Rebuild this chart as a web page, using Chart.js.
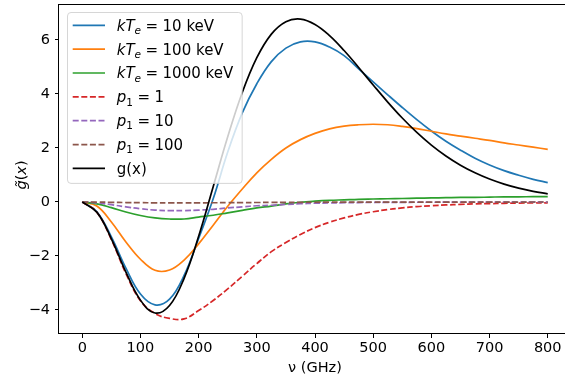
<!DOCTYPE html>
<html>
<head>
<meta charset="utf-8">
<title>g(x)</title>
<script src="https://cdn.jsdelivr.net/npm/chart.js@4.4.1/dist/chart.umd.min.js"></script>
<style>
  html, body { margin: 0; padding: 0; overflow: hidden; background: #fff; }
  canvas { display: block; }
</style>
</head>
<body>
<canvas id="sz" width="580" height="380"></canvas>
<script>
// frequency grid, GHz
const nu = [0, 25, 50, 75, 100, 125, 150, 175, 200, 225, 250, 275, 300, 325, 350, 375, 400,
            425, 450, 475, 500, 525, 550, 575, 600, 625, 650, 675, 700, 725, 750, 775, 800];

// relativistic thermal curves
const kT10 = [0, -0.36, -1.29, -2.45, -3.41, -3.81, -3.60, -2.72, -1.35, 0.12, 1.85, 3.30, 4.38,
              5.20, 5.70, 5.93, 5.93, 5.74, 5.42, 4.93, 4.45, 3.97, 3.50, 3.05, 2.63, 2.25, 1.92,
              1.62, 1.37, 1.16, 0.99, 0.84, 0.72];
const kT100 = [0, -0.15, -0.74, -1.48, -2.12, -2.53, -2.52, -2.15, -1.55, -0.86, -0.16, 0.48, 1.08,
               1.58, 2.00, 2.31, 2.54, 2.71, 2.81, 2.86, 2.88, 2.86, 2.80, 2.72, 2.62, 2.52, 2.44,
               2.36, 2.28, 2.19, 2.11, 2.03, 1.95];
const kT1000 = [0, -0.07, -0.21, -0.37, -0.50, -0.59, -0.63, -0.63, -0.56, -0.49, -0.40, -0.31, -0.22,
                -0.15, -0.07, -0.01, 0.03, 0.06, 0.08, 0.10, 0.11, 0.12, 0.13, 0.14, 0.15, 0.16, 0.17,
                0.17, 0.18, 0.19, 0.19, 0.20, 0.20];

// power-law electrons
const p1_1 = [0, -0.38, -1.39, -2.65, -3.66, -4.13, -4.31, -4.33, -4.02, -3.65, -3.22, -2.75, -2.28,
              -1.84, -1.50, -1.20, -0.95, -0.75, -0.59, -0.46, -0.36, -0.28, -0.22, -0.17, -0.14,
              -0.11, -0.09, -0.07, -0.06, -0.05, -0.04, -0.035, -0.03];
const p1_10 = [0, -0.03, -0.10, -0.18, -0.25, -0.30, -0.32, -0.32, -0.30, -0.27, -0.22, -0.18, -0.14,
               -0.12, -0.09, -0.065, -0.045, -0.035, -0.027, -0.021, -0.017, -0.014, -0.012, -0.010,
               -0.009, -0.008, -0.007, -0.006, -0.005, -0.005, -0.004, -0.004, -0.003];
const p1_100 = [0, -0.004, -0.012, -0.02, -0.026, -0.03, -0.032, -0.032, -0.03, -0.028, -0.025, -0.022,
                -0.019, -0.016, -0.013, -0.011, -0.009, -0.008, -0.007, -0.006, -0.005, -0.004, -0.004,
                -0.003, -0.003, -0.003, -0.002, -0.002, -0.002, -0.002, -0.002, -0.001, -0.001];

// non-relativistic g(x)
const gx = [0, -0.375, -1.362, -2.596, -3.635, -4.110, -3.833, -2.826, -1.271, 0.567, 2.415, 4.054,
            5.343, 6.218, 6.679, 6.775, 6.577, 6.163, 5.610, 4.983, 4.334, 3.701, 3.110, 2.577, 2.108,
            1.705, 1.365, 1.083, 0.851, 0.664, 0.514, 0.396, 0.302];

const labels = ['$kT_e = 10$ keV', '$kT_e = 100$ keV', '$kT_e = 1000$ keV',
                '$p_1 = 1$', '$p_1 = 10$', '$p_1 = 100$', 'g(x)'];
const values = [kT10, kT100, kT1000, p1_1, p1_10, p1_100, gx];
const colors = ['#1f77b4', '#ff7f0e', '#2ca02c', '#d62728', '#9467bd', '#8c564b', '#000000'];
const dashed = [false, false, false, true, true, true, false];

const xTicks = [0, 100, 200, 300, 400, 500, 600, 700, 800];
const yTicks = [-4, -2, 0, 2, 4, 6];

const FONT = '"DejaVu Sans"';
const FS = 14.5;      // ticks and axis titles
const LEG_FS = 15;    // legend entries
const LW = 1.7;
const DASH = [6, 2.6];

// draws a label with $...$ parts set like mathtext: letters italic, _x subscripts
function drawMath(ctx, text, x, y, size) {
  const base = y + size * 0.36;
  let cx = x;
  text.split('$').forEach((part, i) => {
    if (i % 2 === 0) {
      ctx.font = size + 'px ' + FONT;
      ctx.fillText(part, cx, base);
      cx += ctx.measureText(part).width;
      return;
    }
    for (let k = 0; k < part.length; k++) {
      let ch = part[k];
      if (ch === ' ') continue;
      let sub = false;
      if (ch === '_') { sub = true; ch = part[++k]; }
      if (part[k + 1] === '\u0303') { ch += part[++k]; }
      const sz = sub ? size * 0.7 : size;
      const italic = /[a-zA-Z]/.test(ch[0]);
      ctx.font = (italic ? 'italic ' : '') + sz + 'px ' + FONT;
      const pad = ch === '=' ? size * 0.3 : 0;
      cx += pad;
      ctx.fillText(ch, cx, base + (sub ? size * 0.22 : 0));
      cx += ctx.measureText(ch).width + pad;
    }
  });
  return cx - x;
}

function measureMath(ctx, text, size) {
  ctx.save();
  ctx.globalAlpha = 0;
  const w = drawMath(ctx, text, 0, 0, size);
  ctx.restore();
  return w;
}

// full box around the axes
const framePlugin = {
  id: 'frame',
  afterDatasetsDraw(chart) {
    const { ctx, chartArea: a } = chart;
    ctx.save();
    ctx.strokeStyle = '#000';
    ctx.lineWidth = 1;
    ctx.strokeRect(Math.round(a.left) - 0.5, Math.round(a.top) + 0.5,
                   Math.round(a.right - a.left) + 1, Math.round(a.bottom - a.top) - 1);
    ctx.restore();
  }
};

// axis titles
const titlesPlugin = {
  id: 'titles',
  afterDraw(chart) {
    const { ctx, chartArea: a } = chart;
    ctx.save();
    ctx.fillStyle = '#000';
    ctx.textBaseline = 'alphabetic';
    const xt = '$\u03bd$ (GHz)';
    const wx = measureMath(ctx, xt, FS);
    drawMath(ctx, xt, (a.left + a.right) / 2 - wx / 2, 367, FS);

    const yt = '$g\u0303(x)$';
    const wy = measureMath(ctx, yt, FS);
    ctx.translate(21, (a.top + a.bottom) / 2 + 6);
    ctx.rotate(-Math.PI / 2);
    drawMath(ctx, yt, -wy / 2, 0, FS);
    ctx.restore();
  }
};

// legend box in the upper left, drawn over the curves
const legendPlugin = {
  id: 'mathLegend',
  afterDraw(chart) {
    const { ctx } = chart;
    const left = 67.5, top = 12.5, rowH = 23.85, firstRow = 25.3;
    const lineX0 = 72.7, lineX1 = 105, textX = 116.7;
    let maxW = 0;
    labels.forEach(t => { maxW = Math.max(maxW, measureMath(ctx, t, LEG_FS)); });
    const right = textX + maxW + 9;
    const bottom = firstRow + rowH * (labels.length - 1) + 15;

    ctx.save();
    ctx.beginPath();
    ctx.roundRect(left, top, right - left, bottom - top, 3.5);
    ctx.fillStyle = 'rgba(255,255,255,0.8)';
    ctx.fill();
    ctx.strokeStyle = 'rgba(204,204,204,0.8)';
    ctx.lineWidth = 1;
    ctx.stroke();

    labels.forEach((t, i) => {
      const y = firstRow + i * rowH;
      ctx.beginPath();
      ctx.setLineDash(dashed[i] ? DASH : []);
      ctx.strokeStyle = colors[i];
      ctx.lineWidth = LW;
      ctx.moveTo(lineX0, y);
      ctx.lineTo(lineX1, y);
      ctx.stroke();
      ctx.setLineDash([]);
      ctx.fillStyle = '#000';
      drawMath(ctx, t, textX, y, LEG_FS);
    });
    ctx.restore();
  }
};

// blue first, g(x) last on top
const datasets = values.map((arr, i) => ({
  label: labels[i],
  data: nu.map((v, k) => ({ x: v, y: arr[k] })),
  borderColor: colors[i],
  backgroundColor: colors[i],
  borderWidth: LW,
  borderDash: dashed[i] ? DASH : [],
  pointRadius: 0,
  fill: false,
  tension: 0.4,
  order: values.length - 1 - i
}));

const tickFont = { family: FONT, size: FS };
const minus = v => String(v).replace('-', '\u2212');

// keep the plot box fixed: no extra room reserved for end tick labels
function noPad(s) {
  s.paddingTop = 0; s.paddingBottom = 0; s.paddingLeft = 0; s.paddingRight = 0;
}

new Chart(document.getElementById('sz').getContext('2d'), {
  type: 'line',
  data: { datasets },
  options: {
    responsive: false,
    animation: false,
    events: [],
    layout: { padding: { top: 4, right: 9, left: 0, bottom: 0 } },
    plugins: { legend: { display: false }, tooltip: { enabled: false } },
    scales: {
      x: {
        type: 'linear',
        min: -40,
        max: 840,
        afterBuildTicks: s => { s.ticks = xTicks.map(v => ({ value: v })); },
        afterFit: s => { s.height = 46; noPad(s); },
        border: { display: false },
        grid: { drawOnChartArea: false, tickLength: 4, tickColor: '#000', tickWidth: 1 },
        ticks: { color: '#000', font: tickFont, padding: 2, maxRotation: 0, callback: minus }
      },
      y: {
        type: 'linear',
        min: -4.889,
        max: 7.333,
        afterBuildTicks: s => { s.ticks = yTicks.map(v => ({ value: v })); },
        afterFit: s => { s.width = 59; noPad(s); },
        border: { display: false },
        grid: { drawOnChartArea: false, tickLength: 4, tickColor: '#000', tickWidth: 1 },
        ticks: { color: '#000', font: tickFont, padding: 5, callback: minus }
      }
    }
  },
  plugins: [framePlugin, titlesPlugin, legendPlugin]
});
</script>
</body>
</html>
